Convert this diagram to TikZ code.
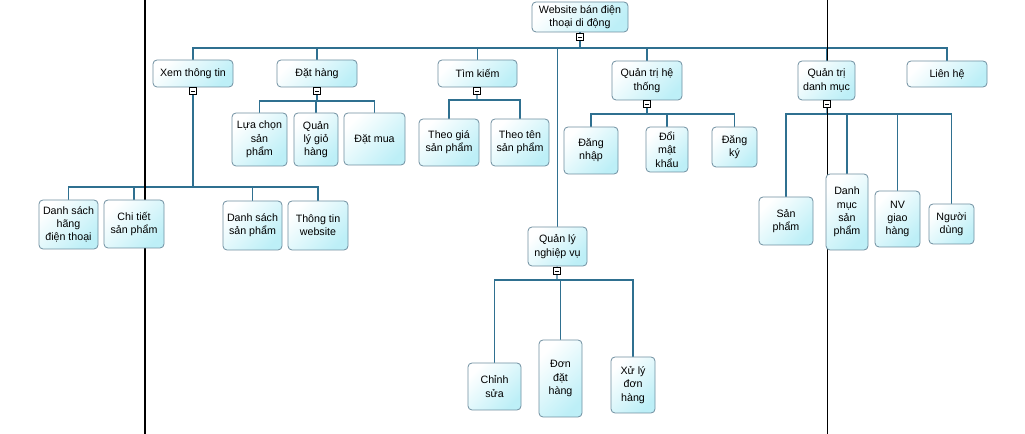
\documentclass[tikz,border=0pt]{standalone}
\usepackage{fontspec}
\setmainfont{Liberation Sans}
\usetikzlibrary{backgrounds}
\definecolor{boxline}{HTML}{6F8FA0}
\definecolor{boxfill}{HTML}{BDEFF7}
\definecolor{conn}{HTML}{2F7090}
\tikzset{
  tb/.style={draw=boxline, line width=0.6pt, rounded corners=3pt, top color=white, bottom color=boxfill, shading angle=45, inner sep=0pt, align=center, font=\fontsize{8}{10}\selectfont},
  cb/.style={draw=black, line width=0.6pt, fill=white, minimum size=5.2pt, inner sep=0pt,
    path picture={\draw[line width=0.6pt] ([xshift=1.1pt]path picture bounding box.west) -- ([xshift=-1.1pt]path picture bounding box.east);}},
  cn/.style={draw=conn, line width=0.8pt},
  pagebreak/.style={draw=black, line width=0.8pt}
}
\newcommand{\tbox}[6]{\node[tb, minimum width={(#3-#2)*0.75pt}, minimum height={(#5-#4)*0.75pt}] (#1) at ({(#2+#3)/2},{(#4+#5)/2}) {#6};}
\newcommand{\cbox}[3]{\node[cb] (#1) at (#2,#3) {};}
\begin{document}
\begin{tikzpicture}[x=0.75pt, y=-0.75pt]
\useasboundingbox (0,0) rectangle (1025,434);
% top level
\tbox{root}{532}{628}{2}{32}{Website bán điện\\thoại di động}
\tbox{xem}{153}{233}{60}{87}{Xem thông tin}
\tbox{dathang}{277}{357}{60}{87}{Đặt hàng}
\tbox{timkiem}{438}{517}{60}{87}{Tìm kiếm}
\tbox{qtht}{612}{682}{61}{100}{Quản trị hệ\\thống}
\tbox{qtdm}{798}{855}{61}{100}{Quản trị\\danh mục}
\tbox{lienhe}{907}{987}{61}{87}{Liên hệ}
\tbox{qlnv}{528}{587}{227}{266}{Quản lý\\nghiệp vụ}
% Xem thong tin children
\tbox{dshang}{39}{98}{200}{249}{Danh sách\\hãng\\điện thoại}
\tbox{chitiet}{104}{164}{200}{248}{Chi tiết\\sản phẩm}
\tbox{dssp}{223}{282}{201}{250}{Danh sách\\sản phẩm}
\tbox{ttweb}{288}{348}{201}{250}{Thông tin\\website}
% Dat hang children
\tbox{luachon}{232}{287}{113}{166}{Lựa chọn\\sản\\phẩm}
\tbox{quanly}{294}{338}{113}{166}{Quản\\lý giỏ\\hàng}
\tbox{datmua}{344}{405}{113}{165}{Đặt mua}
% Tim kiem children
\tbox{theogia}{419}{479}{119}{166}{Theo giá\\sản phẩm}
\tbox{theoten}{491}{549}{119}{166}{Theo tên\\sản phẩm}
% Quan tri he thong children
\tbox{dangnhap}{564}{618}{127}{174}{Đăng\\nhập}
\tbox{doimk}{646}{688}{127}{172}{Đổi\\mật\\khẩu}
\tbox{dangky}{712}{757}{127}{167}{Đăng\\ký}
% Quan tri danh muc children
\tbox{sanpham}{759}{813}{197}{245}{Sản\\phẩm}
\tbox{dmsp}{826}{868}{174}{250}{Danh\\mục\\sản\\phẩm}
\tbox{nvgh}{875}{920}{191}{247}{NV\\giao\\hàng}
\tbox{nguoidung}{929}{974}{204}{244}{Người\\dùng}
% Quan ly nghiep vu children
\tbox{chinhsua}{468}{521}{363}{410}{Chỉnh\\sửa}
\tbox{donhang}{539}{582}{340}{417}{Đơn\\đặt\\hàng}
\tbox{xuly}{611}{655}{357}{413}{Xử lý\\đơn\\hàng}
% collapse boxes
\cbox{croot}{580}{37}
\cbox{cxem}{193}{91}
\cbox{cdathang}{317}{91}
\cbox{ctimkiem}{477}{91}
\cbox{cqtht}{647}{104}
\cbox{cqtdm}{827}{104}
\cbox{cqlnv}{557}{271}
% bar coordinates
\coordinate (broot) at (580,48);
\coordinate (bxem) at (193,187);
\coordinate (bdathang) at (317,101);
\coordinate (btimkiem) at (477,100);
\coordinate (bqtht) at (647,114);
\coordinate (bqtdm) at (827,114);
\coordinate (bqlnv) at (557,280);
\begin{pgfonlayer}{background}
\draw[cn] (root) -- (croot) -- (broot);
\foreach \c in {xem,dathang,timkiem,qtht,qtdm,lienhe,qlnv} \draw[cn] (broot) -| (\c.north);
\draw[cn] (xem) -- (cxem) -- (bxem);
\foreach \c in {dshang,chitiet,dssp,ttweb} \draw[cn] (bxem) -| (\c.north);
\draw[cn] (dathang) -- (cdathang) -- (bdathang);
\foreach \c in {luachon,quanly,datmua} \draw[cn] (bdathang) -| (\c.north);
\draw[cn] (timkiem) -- (ctimkiem) -- (btimkiem);
\foreach \c in {theogia,theoten} \draw[cn] (btimkiem) -| (\c.north);
\draw[cn] (qtht) -- (cqtht) -- (bqtht);
\foreach \c in {dangnhap,doimk,dangky} \draw[cn] (bqtht) -| (\c.north);
\draw[cn] (qtdm) -- (cqtdm) -- (bqtdm);
\foreach \c in {sanpham,dmsp,nvgh,nguoidung} \draw[cn] (bqtdm) -| (\c.north);
\draw[cn] (qlnv) -- (cqlnv) -- (bqlnv);
\foreach \c in {chinhsua,donhang,xuly} \draw[cn] (bqlnv) -| (\c.north);
% page break lines
\draw[pagebreak] (145,0) -- (145,434);
\draw[pagebreak] (827.5,0) -- (827.5,434);
\end{pgfonlayer}
\end{tikzpicture}
\end{document}
